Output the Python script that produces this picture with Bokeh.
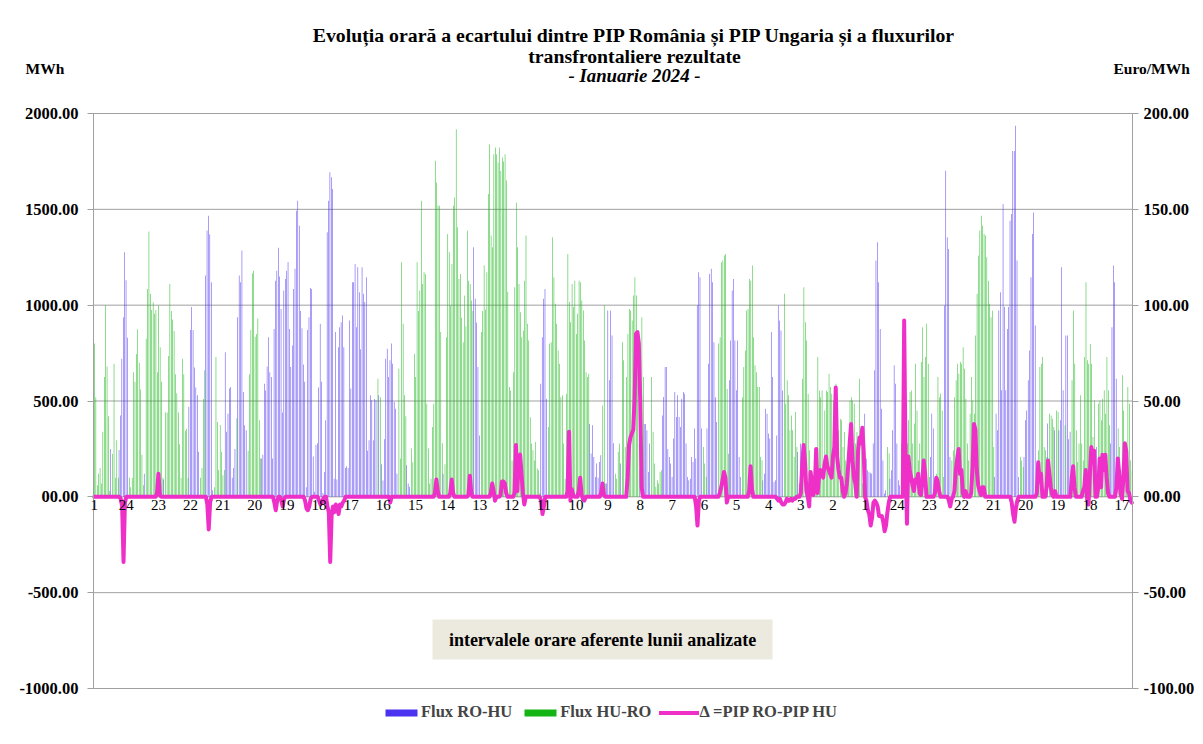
import numpy as np
from bokeh.plotting import figure
from bokeh.models import (Range1d, LinearAxis, FixedTicker, Label, LabelSet,
                          BoxAnnotation, Legend, LegendItem, ColumnDataSource)
from bokeh.embed import file_html
from bokeh.resources import INLINE

# ---- hourly net flow per day (MWh): + = Flux RO-HU, - = Flux HU-RO ----
flow_01 = [-800, -520, -60, -120, -150, -70, -340, -625, -1000, -680, -420, -30, 250, -225, -695, -100, -295, -100, 245, 425, 720, 937, 1276, 1130]
flow_02 = [830, -100, -50, -100, -650, -600, -745, -875, -700, -560, -220, -60, 120, -825, -1085, -1385, -1060, -975, -1015, -955, -975, -650, -1000, -780]
flow_03 = [-600, -100, 90, -440, -440, -735, -1110, -970, -925, -865, -640, -540, -440, -275, -100, -720, -640, -345, -355, -100, 470, 870, 990, 870]
flow_04 = [675, 570, 530, 235, -100, -150, -510, -660, 1155, 1390, 1467, 1370, 1120, 35, -50, -730, -390, -140, -375, -235, -113, -140, 755, 340]
flow_05 = [434, 565, 573, 100, 150, 250, -410, 937, 1155, 1120, 1285, 547, 373, 347, -240, -640, -870, -1165, -1180, -835, -850, -930, -400, -200]
flow_06 = [200, 220, 590, 555, 680, 833, 650, 625, 200, 876, 1128, 1180, 1300, 1150, 980, 440, 1076, 1137, 1180, 1225, 876, 677, 790, 1085]
flow_07 = [1190, 1493, 1545, 1415, 970, 880, 690, 600, 50, 870, 937, 1090, 1085, 210, 27, 270, 280, 570, 903, 600, 20, 130, 400, 1380]
flow_08 = [1545, 1693, 1667, 1606, 95, 860, 90, 780, 885, 911, 946, 780, 150, 160, 150, 920, 565, 1120, 1120, 1215, 885, 1198, 1068, 770]
flow_09 = [1198, 1059, 1016, 1146, 240, 295, 530, 505, 295, 510, 505, -616, 530, -520, 170, 85, 300, 720, 773, 625, 712, 800, 695, 495]
flow_10 = [460, 120, -668, -200, -1224, -903, -530, -420, 165, 70, 52, -252, -180, -746, -625, -1224, -970, -1076, -1545, -1111, -1172, -1163, -486, -252]
flow_11 = [-70, -95, -365, -486, -1753, -1640, -1520, -1519, -860, -280, 120, -170, -833, -1371, -1276, -1000, -1215, -1519, -1562, -1918, -1406, -1137, -1163, -935]
flow_12 = [-807, -1050, -890, -1389, -1128, -1111, -1024, -970, 1302, 1033, 910, 677, 320, -860, -970, -1207, -976, -1172, -1580, -1840, -1363, -1302, -1788, -1823]
flow_13 = [-1788, -1745, -1823, -1700, -1770, -1750, -1788, -1650, -1070, -573, -555, -190, -650, -1094, -1536, -1302, -1111, -963, -833, -868, -1128, -1363, -903, -816]
flow_14 = [-415, -278, -243, -190, -286, -148, -139, -20, 590, 833, 1033, 1085, 512, -365, -800, -807, -1354, -1146, -1007, -903, -764, -694, -520, -530]
flow_15 = [-278, -95, -538, -1267, -1016, -911, -1111, -990, -1128, -850, -955, -1128, -1120, -1024, -972, -816, -650, -625, -642, 380, 226, 373, 208, 104]
flow_16 = [174, 100, 182, 217, -477, -1000, -70, 70, 972, 608, 972, 842, 280, -120, -95, -235, -278, 174, -807, -712, -260, -625, -850, -980]
flow_17 = [-972, -920, -1050, -1146, -1050, -738, -278, 140, -937, -625, 380, 380, 347, 130, 278, -625, -340, -174, -52, -87, -70, -130, -139, 425]
flow_18 = [521, 677, 677, 250, 208, 174, 104, 304, 547, 417, 530, 417, 365, 512, 547, 538, 278, 104, 87, 95, 208, 182, 356, 200]
flow_19 = [1000, 1172, 1146, 356, -260, -174, -104, 356, 694, 1163, 1190, 1120, 807, 520, 390, -800, -833, -1224, -1233, -1259, -1267, -563, -225, 608]
flow_20 = [816, 1076, 1137, 816, 556, 816, 208, 104, -520, -677, -764, -972, -980, -1137, -1128, -1207, -833, -686, -650, -573, -573, -208, -191, 87]
flow_21 = [120, 460, 434, 330, 304, 860, 625, 78, 87, 320, 998, 920, 868, 555, -1059, -486, -608, -530, -347, -425, -347, -208, -443, -260]
flow_22 = [234, 70, 278, -616, -1094, -911, -816, -538, -243, -104, -52, -104, -226, -120, -729, -555, -520, -555, -190, -451, -555, -547, -642, -573]
flow_23 = [-538, -503, -416, -590, -443, -347, -408, -400, -260, -338, -190, -174, -190, -503, -520, -503, -486, -278, -338, -174, -616, -321, -70, -52]
flow_24 = [434, 200, 139, 130, 125, 121, 278, 660, 1233, 1328, 1120, 876, 460, 190, 17, 35, -260, -226, 95, 139, 347, 686, 590, 278]
flow_25 = [87, 60, -278, -190, -260, -208, -278, -400, -547, -555, -278, -382, -694, -451, -190, -278, -703, -885, -625, -729, -903, -694, -104, 208]
flow_26 = [434, 356, 17, -121, -625, -520, -538, -451, -104, 998, 1701, 1354, 1293, 208, -190, -243, -520, -608, -694, -642, -703, -694, -781, -668]
flow_27 = [-512, -278, -190, -434, -625, -503, -434, -842, -1059, -1259, -1389, -1467, -1415, -1371, -1363, -1250, -1128, -1007, -937, -972, -260, 104, 434, 347]
flow_28 = [972, 1068, 556, 1528, 990, 556, 876, 990, 1441, 1476, 1805, 1805, 1936, 1233, 104, -208, -190, -156, 208, 400, 451, 608, 764, 1146]
flow_29 = [1371, 1484, 894, 104, -243, -677, -694, -729, -260, -243, -208, 382, -434, -425, -408, -365, 347, -451, -443, 347, 400, 1198, 556, -373]
flow_30 = [842, 842, 300, 340, -608, -972, -694, -347, -182, -278, -530, -278, -190, -729, -1120, -712, -694, -798, -694, -312, -503, 190, 260, -486]
flow_31 = [-503, -400, -512, -556, -434, -729, -556, -373, 278, 885, 1207, 1120, 616, -356, -260, -140, -634, -451, -278, -243, -573, -486, -190, -139]

# ---- hourly price gap PIP RO - PIP HU per day (Euro/MWh) ----
delta_01 = [0, 0, 0, 0, 0, 0, 0, 0, 0, 0, 0, 0, 0, 0, 0, 0, 0, 0, 0, -1, -5, -34, -3, 0]
delta_02 = [0, 0, 0, 0, 0, 0, 0, 0, 0, 0, 0, 0, 0, 0, 0, 0, 0, 0, 0, 0, 0, 2, 12, 1]
delta_03 = [0, 0, 0, 0, 0, 0, 0, 0, 0, 0, 0, 0, 0, 0, 0, 0, 0, 0, 0, 0, 0, 0, 0, 0]
delta_04 = [0, 0, 0, 0, 0, 0, 0, 0, 0, -4, -17, -3, 0, 0, 0, 0, 0, 0, 0, 0, 0, 0, 0, 0]
delta_05 = [0, 0, 0, 0, 0, 0, 0, 0, 0, 0, 0, 0, 0, 0, 0, 0, 0, 0, 0, 0, 0, 0, 0, 0]
delta_06 = [0, 0, 0, 0, 0, 0, 0, 0, 0, -3, -7, -2, 0, 0, -2, -5, -1, 0, 0, 0, 0, 0, 0, 0]
delta_07 = [0, 0, 0, 0, 0, 0, 0, -2, -6, -7, -5, -1, 0, 0, 0, 0, 0, -2, -4, -3, -1, 0, 0, -5]
delta_08 = [-8, -34, -10, -5, -8, -4, -6, -9, -4, -5, -3, -2, 0, 0, 0, 0, 0, 0, 0, 0, 0, 0, 0, 0]
delta_09 = [0, 0, 0, 0, 0, 0, 0, 0, 0, 0, 0, 0, 0, 0, 0, 0, 0, 0, 0, 0, -3, 0, 0, 0]
delta_10 = [0, 0, 0, 0, 0, 0, 0, 0, 0, 0, 0, 0, 0, 0, 0, 0, 0, 0, 0, 0, 0, 0, 0, 0]
delta_11 = [0, 0, 0, 0, 2, 9, 3, 0, 0, 0, 0, 0, 0, 0, 0, 2, 9, 2, 0, 0, 0, 0, 0, 0]
delta_12 = [0, 0, 0, 0, 1, 11, 2, 0, 0, 0, 0, 0, 0, 0, 0, 0, 0, 0, 0, 0, 2, 7, 3, -2]
delta_13 = [0, 0, 0, 1, 8, 8, 7, 2, 0, 0, 0, 0, 0, 2, 27, 3, 20, 22, 12, 2, -4, 0, 0, 0]
delta_14 = [0, 0, 0, 0, 0, 0, 0, 0, -2, -9, -5, 0, 0, 0, 0, 0, 0, 0, 0, 0, 0, 0, 0, 0]
delta_15 = [0, 0, 0, 3, 34, -2, 4, 1, 0, 0, 0, 3, 10, 1, -1, -2, 0, 0, 0, 0, 0, 0, 0, 0]
delta_16 = [0, 0, 0, 2, 7, 1, 0, 0, 0, 0, 0, 0, 0, 0, 0, 0, 0, 0, 0, 0, 0, 0, 10, 27]
delta_17 = [31, 33, 35, 52, 85, 86, 80, 50, 5, 0, 0, 0, 0, 0, 0, 0, 0, 0, 0, 0, 0, 0, 0, 0]
delta_18 = [0, 0, 0, 0, 0, 0, 0, 0, 0, 0, 0, 0, 0, 0, 0, 0, 0, 0, 0, 0, 0, 0, 0, -5]
delta_19 = [-15, -2, 0, 0, 0, 0, 0, 0, 0, 0, 0, 0, 0, 0, 0, 0, 2, 5, 9, 13, 10, -3, 0, 0]
delta_20 = [0, 0, 0, 0, 0, 0, 0, 0, 0, 0, 0, 0, 0, 3, 16, 4, 0, 0, 0, 0, 0, 0, 0, 0]
delta_21 = [0, 0, 0, 0, 0, 0, 0, 0, 0, -1, -2, -1, -3, -4, -4, -3, -1, -2, -2, -1, -2, -1, -1, 0]
delta_22 = [0, 0, 2, 17, 27, 18, 3, 0, -5, 13, 7, 1, 5, 25, 2, 10, 14, 12, 10, 17, 21, 16, 14, 12]
delta_23 = [10, 21, 26, 57, 21, 14, 10, 10, 3, 0, 2, 7, 17, 28, 38, 19, 10, 7, 0, 24, 31, 28, 36, 24]
delta_24 = [0, -2, -7, -9, -15, -11, -3, -2, -3, -5, -10, -10, -10, -13, -18, -15, -8, -3, 0, 0, 0, 0, 0, 0]
delta_25 = [0, 0, 0, 0, 92, 17, -14, 21, 14, 10, 6, 3, 9, 8, 12, 2, 1, 8, 19, 12, 0, 0, 0, 0]
delta_26 = [0, 0, 2, 10, 8, 3, 0, 0, 0, 0, 0, 0, -2, -5, -1, 0, 3, 14, 20, 25, 12, 14, 2, 0]
delta_27 = [3, 0, 0, 0, 2, 16, 38, 35, 14, 6, 3, 1, 5, 5, 0, 0, 0, 0, 0, 0, 0, 0, 0, 0]
delta_28 = [0, 0, 0, 0, 0, 0, 0, 0, 0, -3, -9, -13, -6, -2, 0, 0, 0, 0, 0, 0, 0, 0, 0, 0]
delta_29 = [0, 0, 0, 2, 18, 8, 12, 0, 0, 0, 5, 19, 12, 5, 1, 0, 3, 0, 0, 0, 0, 0, 0, 0]
delta_30 = [0, 0, 0, 0, 10, 16, 5, 0, 0, 0, 0, 0, 3, 5, 14, -1, -4, 12, 26, 20, 24, 0, 0, 5]
delta_31 = [20, 5, 22, 14, 22, 10, 2, 0, 0, 0, 0, 0, 5, 20, 12, 2, -1, 10, 28, 24, 3, 2, -2, -3]

# ---- axes ----
left_ticks = [-1000, -500, 0, 500, 1000, 1500, 2000]
left_tick_labels = ["-1000.00", "-500.00", "00.00", "500.00", "1000.00", "1500.00", "2000.00"]
right_ticks = [-100, -50, 0, 50, 100, 150, 200]
right_tick_labels = ["-100.00", "-50.00", "00.00", "50.00", "100.00", "150.00", "200.00"]
x_tick_step = 23
x_tick_labels = ["1", "24", "23", "22", "21", "20", "19", "18", "17", "16", "15", "14", "13",
                 "12", "11", "10", "9", "8", "7", "6", "5", "4", "3", "2", "1", "24", "23",
                 "22", "21", "20", "19", "18", "17"]

flows = [flow_01, flow_02, flow_03, flow_04, flow_05, flow_06, flow_07, flow_08, flow_09, flow_10,
         flow_11, flow_12, flow_13, flow_14, flow_15, flow_16, flow_17, flow_18, flow_19, flow_20,
         flow_21, flow_22, flow_23, flow_24, flow_25, flow_26, flow_27, flow_28, flow_29, flow_30, flow_31]
deltas = [delta_01, delta_02, delta_03, delta_04, delta_05, delta_06, delta_07, delta_08, delta_09, delta_10,
          delta_11, delta_12, delta_13, delta_14, delta_15, delta_16, delta_17, delta_18, delta_19, delta_20,
          delta_21, delta_22, delta_23, delta_24, delta_25, delta_26, delta_27, delta_28, delta_29, delta_30, delta_31]

net = np.array([v for d in flows for v in d], dtype=float)
delta = np.array([v for d in deltas for v in d], dtype=float)
n_hours = len(net)
hour_idx = np.arange(n_hours)
ro_hu = np.where(net > 0, net, 0.0)
hu_ro = np.where(net < 0, -net, 0.0)

BLUE = "#4B32F0"
GREEN = "#14B414"
MAGENTA = "#EE30C8"
GRID = "#A0A0A0"
FONT = "Liberation Serif"

# ---- canvas geometry (pixels) ----
W, H = 1203, 744
FR_L, FR_T, FR_R, FR_B = 93, 113, 1132, 688   # plot area edges
Y0, Y1 = -1000, 2000
E0, E1 = -100, 200
px_x = (FR_R - FR_L) / n_hours
px_y = (FR_B - FR_T) / (Y1 - Y0)
px_e = (FR_B - FR_T) / (E1 - E0)
x_range = Range1d(-FR_L / px_x, n_hours + (W - FR_R) / px_x)
y_range = Range1d(Y0 - (H - FR_B) / px_y, Y1 + FR_T / px_y)
e_range = Range1d(E0 - (H - FR_B) / px_e, E1 + FR_T / px_e)

p = figure(width=W, height=H, output_backend="svg", toolbar_location=None, tools="",
           x_range=x_range, y_range=y_range, x_axis_location=None, y_axis_location=None,
           min_border=0)
p.extra_y_ranges = {"euro": e_range}
p.background_fill_color = "white"
p.border_fill_color = "white"
p.outline_line_color = None
p.grid.visible = False

# horizontal gridlines at the value-axis ticks
p.segment(x0=np.zeros(len(left_ticks)), x1=np.full(len(left_ticks), n_hours),
          y0=left_ticks, y1=left_ticks, line_color=GRID, line_width=1)

src = ColumnDataSource(dict(
    x_ro=hour_idx + 0.5 - 0.2, x_hu=hour_idx + 0.5 + 0.2, xc=hour_idx + 0.5,
    ro=ro_hu, hu=hu_ro, d=delta))

r_ro = p.vbar(x="x_ro", top="ro", bottom=0, width=0.34, source=src,
              fill_color=BLUE, line_color=None)
r_hu = p.vbar(x="x_hu", top="hu", bottom=0, width=0.34, source=src,
              fill_color=GREEN, line_color=None)
r_d = p.line(x="xc", y="d", source=src, y_range_name="euro",
             line_color=MAGENTA, line_width=4, line_join="round", line_cap="round")

def style_axis(ax, ticks, labels):
    ax.ticker = FixedTicker(ticks=ticks)
    ax.major_label_overrides = {t: s for t, s in zip(ticks, labels)}
    ax.bounds = (ticks[0], ticks[-1])
    ax.axis_line_color = GRID
    ax.major_tick_line_color = GRID
    ax.major_tick_out = 6
    ax.major_tick_in = 0
    ax.minor_tick_line_color = None
    ax.major_label_text_font = FONT
    ax.major_label_text_font_style = "bold"
    ax.major_label_text_font_size = "16.5px"
    ax.major_label_text_color = "black"

ax_l = LinearAxis(fixed_location=0)
style_axis(ax_l, left_ticks, left_tick_labels)
ax_l.major_label_standoff = 9
p.add_layout(ax_l, "left")

ax_r = LinearAxis(y_range_name="euro", fixed_location=n_hours)
style_axis(ax_r, right_ticks, right_tick_labels)
ax_r.major_label_standoff = 5
p.add_layout(ax_r, "right")

# category labels along the zero line
lab_idx = np.arange(len(x_tick_labels)) * x_tick_step
lab_src = ColumnDataSource(dict(x=lab_idx + 0.5, y=np.zeros(len(lab_idx)), t=x_tick_labels))
p.add_layout(LabelSet(x="x", y="y", text="t", source=lab_src, text_align="center",
                      text_baseline="top", y_offset=-3, text_font=FONT,
                      text_font_size="15px", text_color="black"))

def page_label(px, py, text, size="16px", style="bold", align="left"):
    p.add_layout(Label(x=px, y=H - py, x_units="screen", y_units="screen",
                       text=text, text_font=FONT, text_font_size=size, text_font_style=style,
                       text_align=align, text_baseline="middle", text_color="black"))

page_label(634, 34, "Evoluția orară a ecartului dintre PIP România și PIP Ungaria și a fluxurilor",
           size="19.8px", align="center")
page_label(634, 55, "transfrontaliere rezultate", size="19.8px", align="center")
page_label(634, 75, "- Ianuarie 2024 -", size="18.8px", style="bold italic", align="center")
page_label(25, 68, "MWh", size="15.5px")
page_label(1113, 68, "Euro/MWh", size="15.5px")

# info box
p.add_layout(BoxAnnotation(left=(432 - FR_L) / px_x, right=(772 - FR_L) / px_x,
                           top=Y1 - (619 - FR_T) / px_y, bottom=Y1 - (659 - FR_T) / px_y,
                           fill_color="#ECE9DF", fill_alpha=1.0, line_color=None))
page_label(602, 639, "intervalele orare aferente lunii analizate", size="18px", align="center")

legend = Legend(items=[LegendItem(label="Flux RO-HU", renderers=[r_ro]),
                       LegendItem(label="Flux HU-RO", renderers=[r_hu]),
                       LegendItem(label="Δ =PIP RO-PIP HU", renderers=[r_d])],
                location=(381, H - 722), orientation="horizontal",
                glyph_width=40, glyph_height=9, label_standoff=0, spacing=8,
                padding=0, margin=0, border_line_color=None, background_fill_alpha=0,
                label_text_font=FONT, label_text_font_style="bold", label_text_font_size="16.5px")
p.add_layout(legend)

open("out.html", "w").write(file_html(p, INLINE, "chart"))
